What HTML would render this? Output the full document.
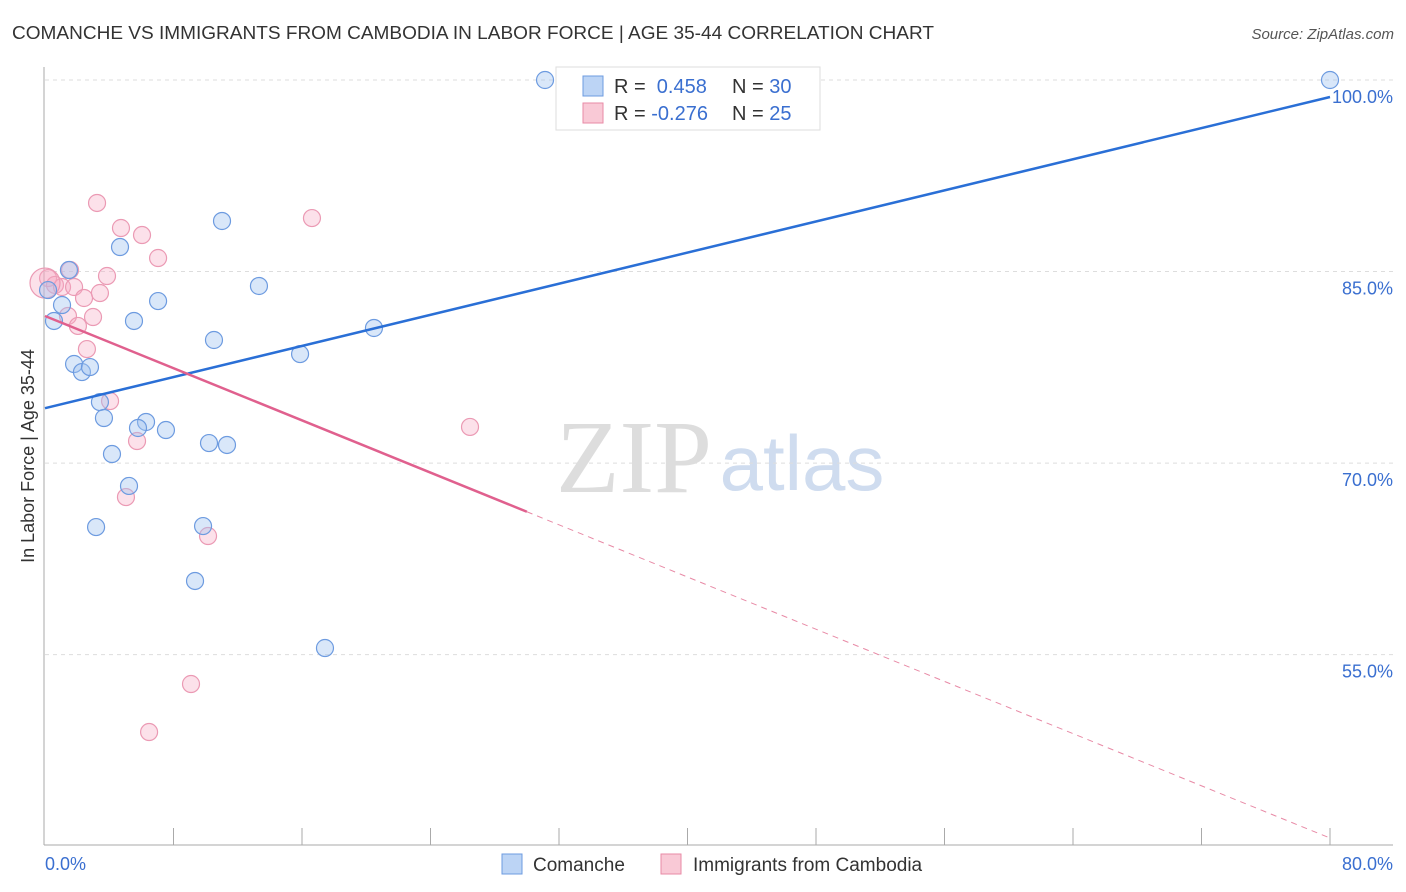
<!DOCTYPE html>
<html><head><meta charset="utf-8"><style>
body{margin:0;background:#fff;font-family:"Liberation Sans",sans-serif;}
svg{display:block}
</style></head><body>
<svg id="chart" width="1406" height="892">
<text x="12" y="39" font-size="18" fill="#333" textLength="922" lengthAdjust="spacingAndGlyphs">COMANCHE VS IMMIGRANTS FROM CAMBODIA IN LABOR FORCE | AGE 35-44 CORRELATION CHART</text>
<text x="1394" y="39" font-size="15" fill="#555" font-style="italic" text-anchor="end">Source: ZipAtlas.com</text>
<text x="634" y="492" font-size="104" fill="#ddd" font-family="Liberation Serif,serif" text-anchor="middle">ZIP</text>
<text x="802" y="490" font-size="78" fill="#cfdcef" text-anchor="middle">atlas</text>
<text transform="translate(34,456) rotate(-90)" font-size="18" fill="#333" text-anchor="middle">In Labor Force | Age 35-44</text>
<g id="grid"></g><g id="marks"></g>
<g>
<rect x="556" y="67" width="264" height="63" fill="#fff" stroke="#ddd"/>
<rect x="583" y="76" width="20" height="20" fill="#bcd4f5" stroke="#6d9be0"/>
<rect x="583" y="103" width="20" height="20" fill="#f9c9d6" stroke="#e88aa6"/>
<text x="614" y="93" font-size="20" fill="#333">R = <tspan fill="#3a6fd0">&#160;0.458</tspan><tspan x="732">N = </tspan><tspan fill="#3a6fd0">30</tspan></text>
<text x="614" y="120" font-size="20" fill="#333">R = <tspan fill="#3a6fd0">-0.276</tspan><tspan x="732">N = </tspan><tspan fill="#3a6fd0">25</tspan></text>
</g>
<g>
<rect x="502" y="854" width="20" height="20" fill="#bcd4f5" stroke="#6d9be0"/>
<text x="533" y="871" font-size="19" fill="#333">Comanche</text>
<rect x="661" y="854" width="20" height="20" fill="#f9c9d6" stroke="#e88aa6"/>
<text x="693" y="871" font-size="19" fill="#333">Immigrants from Cambodia</text>
</g>
</svg>
<script>
const xTicks=["0.0%","80.0%"];
const yTickVals=[100,85,70,55];
const blueX=[31.13,80,11.02,4.67,1.49,13.32,0.19,1.06,7.04,5.54,0.56,10.52,20.48,15.88,1.81,2.30,2.80,3.42,3.67,6.29,5.79,7.53,10.21,11.33,4.17,5.23,3.18,9.84,9.34,17.43];
const blueY=[100,100,88.96,86.92,85.12,83.87,83.55,82.38,82.69,81.13,81.13,79.64,80.58,78.54,77.76,77.13,77.52,74.78,73.53,73.22,72.75,72.59,71.57,71.42,70.71,68.21,64.99,65.07,60.77,55.52];
const pinkX=[3.24,16.62,4.73,6.04,7.04,0.19,1.56,3.86,0.62,1.06,1.81,2.43,3.42,2.99,1.43,2.05,2.61,4.05,5.73,26.46,5.04,10.15,9.09,6.48,0];
const pinkY=[90.37,89.19,88.41,87.86,86.06,84.49,85.12,84.65,83.95,83.79,83.79,82.93,83.32,81.44,81.52,80.74,78.93,74.86,71.73,72.83,67.34,64.29,52.70,48.94,84.1];
const blueTrend=[74.3,98.67];
const pinkTrend=[81.52,40.64];
const pinkSolidEnd=30;
const X=v=>45+v/80*1285, Y=v=>80+(100-v)*12.77;
const NS="http://www.w3.org/2000/svg";
function mk(t,a,p){const e=document.createElementNS(NS,t);for(const k in a)e.setAttribute(k,a[k]);p.appendChild(e);return e;}
const g=document.getElementById('grid'),m=document.getElementById('marks');
yTickVals.forEach(v=>{
 const l=mk('line',{x1:45,x2:1393,y1:Y(v),y2:Y(v),stroke:'#ddd','stroke-dasharray':'4,4'},g);
 
 
 const t=mk('text',{x:1393,y:Y(v)+23,'font-size':18,fill:'#3a6fd0','text-anchor':'end'},g);
 t.textContent=v.toFixed(1)+'%';
 
 
});
mk('line',{x1:44,x2:44,y1:67,y2:845,stroke:'#aaa'},g);
mk('line',{x1:44,x2:1393,y1:845,y2:845,stroke:'#aaa'},g);
for(let i=1;i<=10;i++){const l=mk('line',{x1:X(i*8),x2:X(i*8),y1:828,y2:845,stroke:'#aaa'},g);
 
 }
const t0=mk('text',{x:45,y:870,'font-size':18,fill:'#3a6fd0'},g);t0.textContent=xTicks[0];


const t1=mk('text',{x:1393,y:870,'font-size':18,fill:'#3a6fd0','text-anchor':'end'},g);t1.textContent=xTicks[1];


pinkX.forEach((x,i)=>{const c=mk('circle',{cx:X(x),cy:Y(pinkY[i]),r:i==24?15:8.5,fill:'rgba(246,170,195,0.35)',stroke:'#eb9ab4','stroke-width':1.2},m);
 
 });
blueX.forEach((x,i)=>{const c=mk('circle',{cx:X(x),cy:Y(blueY[i]),r:8.5,fill:'rgba(160,195,240,0.4)',stroke:'#6d9be0','stroke-width':1.2},m);
 
 });
const bl=mk('line',{x1:X(0),y1:Y(blueTrend[0]),x2:X(80),y2:Y(blueTrend[1]),stroke:'#2a6fd6','stroke-width':2.5},m);


const pe=pinkTrend[0]+(pinkTrend[1]-pinkTrend[0])*pinkSolidEnd/80;
const pl=mk('line',{x1:X(0),y1:Y(pinkTrend[0]),x2:X(pinkSolidEnd),y2:Y(pe),stroke:'#e0608e','stroke-width':2.5},m);


const pd=mk('line',{x1:X(pinkSolidEnd),y1:Y(pe),x2:X(80),y2:Y(pinkTrend[1]),stroke:'#e88aa6','stroke-width':1,'stroke-dasharray':'6,5'},m);


</script>
</body></html>
